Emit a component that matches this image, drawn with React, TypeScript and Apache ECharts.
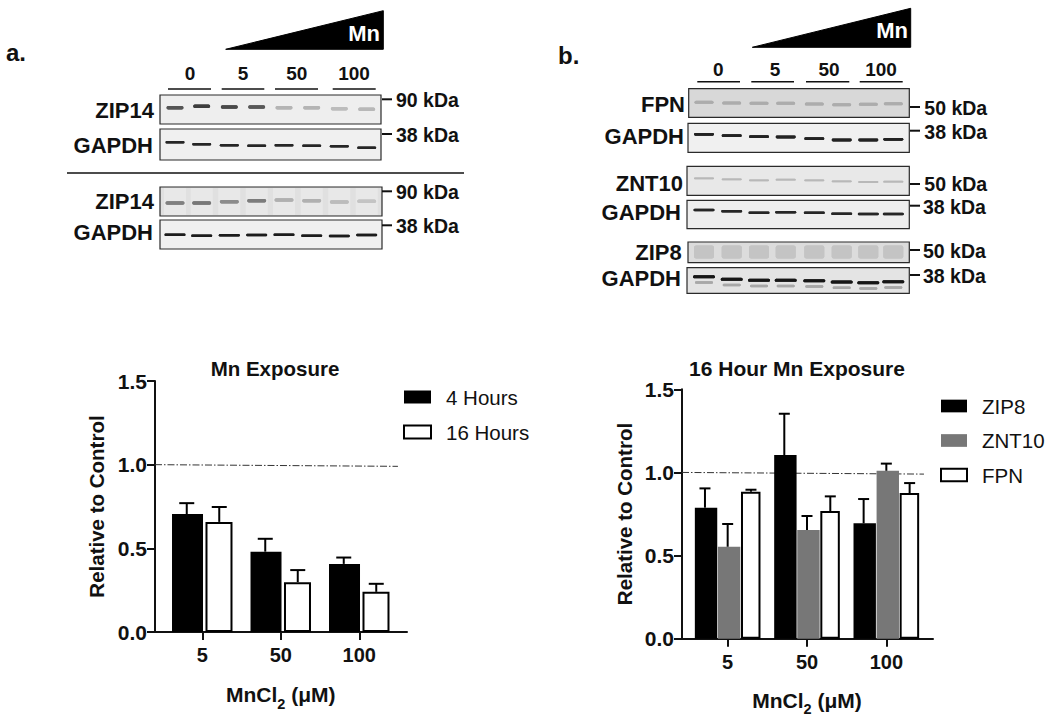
import React, { useEffect, useRef } from "react";
import * as echarts from "echarts";

const FONT = "'Liberation Sans', Arial, sans-serif";

// ---- chart data ----
const doses = ["5", "50", "100"];
const hours4 = [0.705, 0.48, 0.407];
const hours4Err = [0.77, 0.557, 0.445];
const hours16 = [0.658, 0.298, 0.24];
const hours16Err = [0.747, 0.37, 0.288];
const zip8 = [0.788, 1.105, 0.694];
const zip8Err = [0.904, 1.353, 0.84];
const znt10 = [0.553, 0.654, 1.01];
const znt10Err = [0.69, 0.738, 1.053];
const fpn = [0.884, 0.768, 0.876];
const fpnErr = [0.896, 0.856, 0.936];
const yTicks = [0, 0.5, 1, 1.5];
const refLine = [1.0, 0.99];

// ---- blot lane labels ----
const laneLabels = ["0", "5", "50", "100"];
const laneXA = [175, 201.7, 229.3, 256.7, 284, 311.7, 339.3, 366.7];
const laneXB = [704, 731.7, 759, 785.7, 814.3, 841.7, 868.3, 893.3];

type Panel = {
  label: string; labelX: number; labelY: number;
  x: number; y: number; w: number; h: number; bg: string;
  lanes: number[]; bandY: number[]; bandColors: string[]; bandH: number; bandW: number;
  laneShade?: string; ghost?: string;
  kda: string; kdaX: number; kdaY: number; tickY: number; tickX: number;
};

const dark = (c: string) => Array(8).fill(c) as string[];

const panelsA: Panel[] = [
  { label: "ZIP14", labelX: 154, labelY: 110, x: 160, y: 95, w: 221, h: 29, bg: "#eeeeee", lanes: laneXA,
    bandY: [107.7, 106.3, 107, 107, 107.7, 107.7, 108.7, 109.3],
    bandColors: ["#555", "#3c3c3c", "#484848", "#585858", "#b4b4b4", "#b4b4b4", "#bcbcbc", "#b8b8b8"], bandH: 3.4, bandW: 17,
    kda: "90 kDa", kdaX: 396, kdaY: 100, tickY: 99.3, tickX: 382 },
  { label: "GAPDH", labelX: 153, labelY: 145, x: 160, y: 129, w: 221, h: 31, bg: "#f0f0f0", lanes: laneXA,
    bandY: [142.3, 144.3, 145.3, 145.7, 145.3, 145.7, 146.3, 147.7], bandColors: dark("#282828"), bandH: 2.6, bandW: 19,
    kda: "38 kDa", kdaX: 396, kdaY: 135, tickY: 134, tickX: 382 },
  { label: "ZIP14", labelX: 154, labelY: 201, x: 160, y: 187, w: 222, h: 29, bg: "#e0e0e0", lanes: laneXA,
    bandY: [203, 203, 201.7, 200.7, 200, 200.7, 202, 201.3],
    bandColors: ["#808080", "#787878", "#8c8c8c", "#7c7c7c", "#b0b0b0", "#b0b0b0", "#bcbcbc", "#c4c4c4"], bandH: 3.4, bandW: 19,
    laneShade: "#e8e8e8",
    kda: "90 kDa", kdaX: 396, kdaY: 192, tickY: 191.3, tickX: 382 },
  { label: "GAPDH", labelX: 153, labelY: 232, x: 160, y: 220, w: 222, h: 29, bg: "#f0f0f0", lanes: laneXA,
    bandY: [234.7, 235.7, 235.3, 235, 234.7, 235.7, 236, 235], bandColors: dark("#1c1c1c"), bandH: 2.4, bandW: 21,
    kda: "38 kDa", kdaX: 396, kdaY: 226, tickY: 225.3, tickX: 382 },
];

const panelsB: Panel[] = [
  { label: "FPN", labelX: 685, labelY: 104, x: 688.7, y: 88.7, w: 220.6, h: 28.6, bg: "#d8d8d8", lanes: laneXB,
    bandY: [102.3, 103, 103.3, 103.3, 104, 104.7, 104.3, 103.7], bandColors: dark("#acacac"), bandH: 3, bandW: 19,
    kda: "50 kDa", kdaX: 924.3, kdaY: 108, tickY: 107, tickX: 910 },
  { label: "GAPDH", labelX: 684, labelY: 136.7, x: 688, y: 123.3, w: 221.3, h: 29, bg: "#f0f0f0", lanes: laneXB,
    bandY: [134.3, 135.7, 136.7, 137, 138.7, 140, 140, 139.3], bandColors: dark("#202020"), bandH: 2.8, bandW: 20,
    kda: "38 kDa", kdaX: 924.3, kdaY: 131.7, tickY: 130.7, tickX: 910 },
  { label: "ZNT10", labelX: 683, labelY: 183.3, x: 687, y: 166.3, w: 222.3, h: 29, bg: "#e8e8e8", lanes: laneXB,
    bandY: [178.3, 179.3, 180.3, 179.7, 180.3, 181.3, 182, 181.7], bandColors: dark("#b8b8b8"), bandH: 1.8, bandW: 20,
    kda: "50 kDa", kdaX: 924.3, kdaY: 184.3, tickY: 184, tickX: 910 },
  { label: "GAPDH", labelX: 681, labelY: 212, x: 687, y: 200.3, w: 222.3, h: 28.4, bg: "#eeeeee", lanes: laneXB,
    bandY: [210, 211.3, 212.7, 212.3, 212.7, 213.7, 214, 214], bandColors: dark("#282828"), bandH: 2.6, bandW: 21,
    kda: "38 kDa", kdaX: 923, kdaY: 206.7, tickY: 205.7, tickX: 910 },
  { label: "ZIP8", labelX: 681.7, labelY: 252.3, x: 688, y: 242, w: 221.3, h: 20.7, bg: "#dcdcdc", lanes: laneXB,
    bandY: [252, 252, 252, 252, 252, 252, 252, 252], bandColors: dark("#c4c4c4"), bandH: 13, bandW: 20,
    kda: "50 kDa", kdaX: 923, kdaY: 250.7, tickY: 250, tickX: 910 },
  { label: "GAPDH", labelX: 681, labelY: 278.3, x: 687, y: 267.7, w: 222.3, h: 25.6, bg: "#e4e4e4", lanes: laneXB,
    bandY: [276.7, 279.3, 280.3, 280.3, 280.7, 282, 282.7, 281.7], bandColors: dark("#141414"), bandH: 3, bandW: 22,
    ghost: "#a8a8a8",
    kda: "38 kDa", kdaX: 923, kdaY: 275.7, tickY: 275, tickX: 910 },
];

const text = (t: string, x: number, y: number, size: number, align = "center", fill = "#111", weight = "bold") => ({
  type: "text", x, y, silent: true, z: 20,
  style: { text: t, fill, font: `${weight} ${size}px ${FONT}`, textAlign: align, textVerticalAlign: "middle" },
});

const seg = (x1: number, y1: number, x2: number, y2: number, lineWidth = 2) => ({
  type: "line", silent: true, z: 20,
  shape: { x1, y1, x2, y2 }, style: { stroke: "#111", lineWidth },
});

function panelGraphics(p: Panel) {
  const out: any[] = [];
  out.push({ type: "rect", silent: true, z: 10, shape: { x: p.x, y: p.y, width: p.w, height: p.h }, style: { fill: p.bg, stroke: "none" } });
  p.lanes.forEach((lx, i) => {
    if (p.laneShade) {
      out.push({ type: "rect", silent: true, z: 11, shape: { x: lx - 11, y: p.y + 1, width: 22, height: p.h - 2 }, style: { fill: p.laneShade } });
    }
    if (p.ghost) {
      out.push({ type: "rect", silent: true, z: 11, shape: { x: lx - p.bandW / 2 + 2, y: p.bandY[i] + 4.5, width: p.bandW - 4, height: 2.5, r: 1.2 },
        style: { fill: p.ghost, shadowBlur: 1.5, shadowColor: p.ghost } });
    }
    out.push({
      type: "rect", silent: true, z: 12,
      shape: { x: lx - p.bandW / 2, y: p.bandY[i] - p.bandH / 2, width: p.bandW, height: p.bandH, r: Math.min(p.bandH / 2, 2) },
      style: { fill: p.bandColors[i], shadowBlur: 1, shadowColor: p.bandColors[i] },
    });
  });
  out.push({ type: "rect", silent: true, z: 13, shape: { x: p.x, y: p.y, width: p.w, height: p.h }, style: { fill: "none", stroke: "#2a2a2a", lineWidth: 1.2 } });
  out.push(text(p.label, p.labelX, p.labelY, 22, "right"));
  out.push(text(p.kda, p.kdaX, p.kdaY, 19.5, "left"));
  out.push(seg(p.tickX, p.tickY, p.tickX + 10, p.tickY, 2));
  return out;
}

function blotGraphics() {
  const g: any[] = [];
  panelsA.forEach((p) => g.push(...panelGraphics(p)));
  panelsB.forEach((p) => g.push(...panelGraphics(p)));
  // wedges
  g.push({ type: "polygon", silent: true, z: 10, shape: { points: [[225.7, 49.3], [383.3, 10.7], [383.3, 49.3]] }, style: { fill: "#000", stroke: "#000", lineJoin: "round" } });
  g.push({ type: "polygon", silent: true, z: 10, shape: { points: [[752.3, 47.3], [910.7, 8.3], [910.7, 47.3]] }, style: { fill: "#000", stroke: "#000", lineJoin: "round" } });
  g.push(text("Mn", 380, 33.5, 22, "right", "#fff"));
  g.push(text("Mn", 908, 30.5, 22, "right", "#fff"));
  g.push(text("a.", 6, 52, 24, "left", "#111"));
  g.push(text("b.", 558, 55, 24, "left", "#111"));
  // lane labels and underlines
  const labXA = [190, 243, 296.7, 354];
  const barsA = [[168, 211], [221.7, 264.3], [275, 318], [332.7, 375.7]];
  const labXB = [718.3, 775, 829, 881];
  const barsB = [[697.3, 740], [751.3, 794], [806, 849.3], [859.7, 902.7]];
  laneLabels.forEach((l, i) => {
    g.push(text(l, labXA[i], 73, 19));
    g.push(seg(barsA[i][0], 89, barsA[i][1], 89, 1.6));
    g.push(text(l, labXB[i], 69.3, 19));
    g.push(seg(barsB[i][0], 81.7, barsB[i][1], 81.7, 1.6));
  });
  g.push(seg(67, 173, 464, 173, 1.4));
  return g;
}

const errorSeries = (xAxisIndex: number, yAxisIndex: number, values: number[], errors: number[], offset: number, cap: number) => ({
  type: "custom", xAxisIndex, yAxisIndex, z: 5, silent: true, clip: false,
  encode: { x: 0, y: [1, 2] },
  data: values.map((v, i) => [i, v, errors[i]]),
  renderItem: (_p: any, api: any) => {
    const lo = api.coord([api.value(0), api.value(1)]);
    const hi = api.coord([api.value(0), api.value(2)]);
    const x = lo[0] + offset;
    const style = { stroke: "#000", lineWidth: 2, fill: "none" };
    return {
      type: "group",
      children: [
        { type: "line", shape: { x1: x, y1: lo[1], x2: x, y2: hi[1] }, style },
        { type: "line", shape: { x1: x - cap / 2, y1: hi[1], x2: x + cap / 2, y2: hi[1] }, style },
      ],
    };
  },
});

const solid = (name: string, xAxisIndex: number, yAxisIndex: number, data: number[], color: string, barWidth: number, barGap: string) => ({
  name, type: "bar", xAxisIndex, yAxisIndex, data, barWidth, barGap, z: 3, silent: true,
  itemStyle: { color, borderWidth: 0 },
});
const hollow = (name: string, xAxisIndex: number, yAxisIndex: number, data: number[], barWidth: number, barGap: string) => ({
  name, type: "bar", xAxisIndex, yAxisIndex, data, barWidth, barGap, z: 3, silent: true,
  itemStyle: { color: "#fff", borderColor: "#000", borderWidth: 2 },
});
const referenceLine = (xAxisIndex: number, yAxisIndex: number) => ({
  type: "line", xAxisIndex, yAxisIndex, z: 1, silent: true, symbol: "none",
  lineStyle: { color: "#333", width: 1, type: [7, 2, 1.5, 2] },
  data: [[0, refLine[0]], [0.964, refLine[1]]],
});

const sub = { fontSize: 14.5, fontWeight: "bold", fontFamily: FONT, color: "#111", verticalAlign: "bottom", padding: [0, 0, -6, 0] };

const dataX = (gridIndex: number, nameGap: number) => ({
  type: "category", gridIndex, data: doses,
  axisLine: { show: false },
  axisTick: { show: true, alignWithLabel: true, length: 8, lineStyle: { color: "#111", width: 2 } },
  axisLabel: { fontFamily: FONT, fontWeight: "bold", fontSize: 20, color: "#111", margin: 13 },
  name: "MnCl{sub|2} (μM)", nameLocation: "middle", nameGap,
  nameTextStyle: { fontFamily: FONT, fontWeight: "bold", fontSize: 21, color: "#111", rich: { sub } },
});
const dataY = (gridIndex: number) => ({ type: "value", gridIndex, min: 0, max: 1.5, show: false });
const frameX = (gridIndex: number) => ({
  type: "value", gridIndex, min: 0, max: 1,
  axisLine: { show: true, lineStyle: { color: "#111", width: 2 } },
  axisTick: { show: false }, axisLabel: { show: false }, splitLine: { show: false },
});
const frameY = (gridIndex: number, nameGap: number) => ({
  type: "value", gridIndex, min: yTicks[0], max: yTicks[3], interval: yTicks[1],
  axisLine: { show: true, onZero: false, lineStyle: { color: "#111", width: 2 } },
  axisTick: { show: true, length: 8, lineStyle: { color: "#111", width: 2 } },
  axisLabel: { fontFamily: FONT, fontWeight: "bold", fontSize: 21, color: "#111", margin: 8, formatter: (v: number) => v.toFixed(1) },
  splitLine: { show: false },
  name: "Relative to Control", nameLocation: "middle", nameGap,
  nameTextStyle: { fontFamily: FONT, fontWeight: "bold", fontSize: 20.5, color: "#111" },
});
const legendBase = {
  orient: "vertical", selectedMode: false, icon: "rect",
  textStyle: { fontFamily: FONT, fontSize: 20.5, color: "#111", padding: [0, 0, 0, 10] },
};

export default function App() {
  const ref = useRef<HTMLDivElement>(null);
  useEffect(() => {
    const chart = echarts.init(ref.current!, undefined, { renderer: "svg" });
    chart.setOption({
      animation: false,
      backgroundColor: "#fff",
      title: [
        { text: "Mn Exposure", left: 270, top: 353, textAlign: "center", textStyle: { fontFamily: FONT, fontWeight: "bold", fontSize: 20.5, color: "#111" } },
        { text: "16 Hour Mn Exposure", left: 792, top: 353, textAlign: "center", textStyle: { fontFamily: FONT, fontWeight: "bold", fontSize: 21, color: "#111" } },
      ],
      legend: [
        { ...legendBase, data: ["4 Hours", "16 Hours"], left: 398, top: 381.5, itemWidth: 27, itemHeight: 13, itemGap: 14 },
        { ...legendBase, data: ["ZIP8", "ZNT10", "FPN"], left: 935, top: 390.5, itemWidth: 26, itemHeight: 12.7, itemGap: 13.5 },
      ],
      grid: [
        { left: 163, width: 235.5, top: 381, height: 251 },
        { left: 155, width: 252, top: 381, height: 251 },
        { left: 688, width: 238, top: 389.3, height: 249.4 },
        { left: 682, width: 251, top: 389.3, height: 249.4 },
      ],
      xAxis: [dataX(0, 52), frameX(1), dataX(2, 51), frameX(3)],
      yAxis: [dataY(0), frameY(1, 48), dataY(2), frameY(3, 47)],
      series: [
        referenceLine(1, 1),
        referenceLine(3, 3),
        solid("4 Hours", 0, 0, hours4, "#000", 31, "8%"),
        hollow("16 Hours", 0, 0, hours16, 27, "8%"),
        errorSeries(0, 0, hours4, hours4Err, -15.5, 15),
        errorSeries(0, 0, hours16, hours16Err, 17, 15),
        solid("ZIP8", 2, 2, zip8, "#000", 22.4, "3%"),
        solid("ZNT10", 2, 2, znt10, "#777", 22.4, "3%"),
        hollow("FPN", 2, 2, fpn, 19.5, "3%"),
        errorSeries(2, 2, zip8, zip8Err, -22.7, 11),
        errorSeries(2, 2, znt10, znt10Err, 0, 11),
        errorSeries(2, 2, fpn, fpnErr, 23.3, 11),
      ],
      graphic: { elements: blotGraphics() },
    });
    return () => chart.dispose();
  }, []);
  return <div ref={ref} style={{ position: "absolute", left: 0, top: 0, width: 1050, height: 718, background: "#fff" }} />;
}
